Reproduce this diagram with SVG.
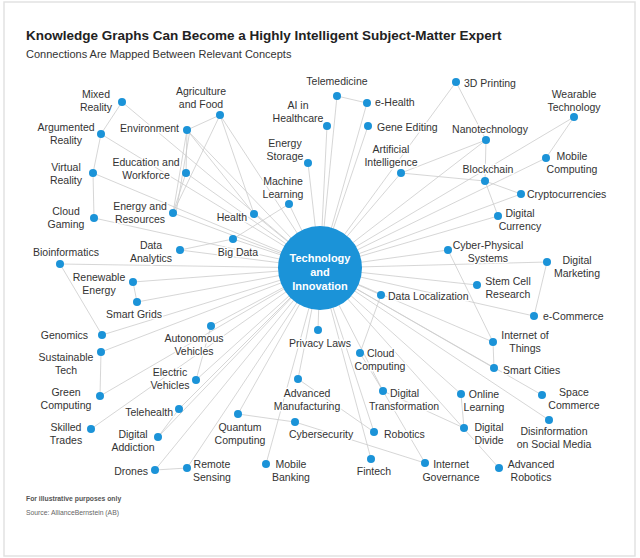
<svg xmlns="http://www.w3.org/2000/svg" width="640" height="558" viewBox="0 0 640 558">
<style>
.e line{stroke:#cccccc;stroke-width:0.8}
.n circle{fill:#1b93d8}
.n text{font-family:"Liberation Sans",Arial,sans-serif;font-size:10.5px;fill:#333;stroke:#fff;stroke-width:3;paint-order:stroke;stroke-linejoin:round}
.m{text-anchor:middle}.r{text-anchor:end}
</style>
<rect x="0" y="0" width="640" height="558" fill="#fff"/>
<rect x="4" y="2" width="631" height="554" fill="none" stroke="#e2e2e2" stroke-width="1.5"/>
<text x="26" y="40" font-family="Liberation Sans,Arial,sans-serif" font-size="13.5" font-weight="bold" fill="#222">Knowledge Graphs Can Become a Highly Intelligent Subject-Matter Expert</text>
<text x="26" y="58" font-family="Liberation Sans,Arial,sans-serif" font-size="11" fill="#333">Connections Are Mapped Between Relevant Concepts</text>
<text x="26" y="501" font-family="Liberation Sans,Arial,sans-serif" font-size="6.8" font-weight="bold" fill="#555">For illustrative purposes only</text>
<text x="26" y="515" font-family="Liberation Sans,Arial,sans-serif" font-size="6.8" fill="#666">Source: AllianceBernstein (AB)</text>
<g id="connectors" class="e">
<line x1="320" y1="268" x2="122" y2="102"/><line x1="320" y1="268" x2="101" y2="134"/><line x1="320" y1="268" x2="93" y2="173"/><line x1="320" y1="268" x2="94" y2="218"/>
<line x1="320" y1="268" x2="220" y2="115"/><line x1="320" y1="268" x2="187" y2="130"/><line x1="320" y1="268" x2="186" y2="173"/><line x1="320" y1="268" x2="173" y2="213"/>
<line x1="320" y1="268" x2="254" y2="214"/><line x1="320" y1="268" x2="289" y2="204"/><line x1="320" y1="268" x2="308" y2="163"/><line x1="320" y1="268" x2="327" y2="126"/>
<line x1="320" y1="268" x2="233" y2="239"/><line x1="320" y1="268" x2="180" y2="250"/><line x1="320" y1="268" x2="60" y2="264"/><line x1="320" y1="268" x2="133" y2="282"/>
<line x1="320" y1="268" x2="137" y2="302"/><line x1="320" y1="268" x2="102" y2="335"/><line x1="320" y1="268" x2="101" y2="352"/><line x1="320" y1="268" x2="100" y2="396"/>
<line x1="320" y1="268" x2="91" y2="429"/><line x1="320" y1="268" x2="211" y2="326"/><line x1="320" y1="268" x2="196" y2="380"/><line x1="320" y1="268" x2="179" y2="409"/>
<line x1="320" y1="268" x2="158" y2="437"/><line x1="320" y1="268" x2="155" y2="470"/><line x1="320" y1="268" x2="187" y2="468"/><line x1="320" y1="268" x2="238" y2="414"/>
<line x1="320" y1="268" x2="298" y2="379"/><line x1="320" y1="268" x2="266" y2="464"/><line x1="320" y1="268" x2="318" y2="330"/>
<line x1="320" y1="268" x2="381" y2="295"/><line x1="320" y1="268" x2="534" y2="316"/><line x1="320" y1="268" x2="493" y2="342"/><line x1="320" y1="268" x2="494" y2="368"/>
<line x1="320" y1="268" x2="383" y2="391"/><line x1="320" y1="268" x2="461" y2="394"/><line x1="320" y1="268" x2="542" y2="395"/><line x1="320" y1="268" x2="549" y2="420"/>
<line x1="320" y1="268" x2="374" y2="432"/><line x1="320" y1="268" x2="371" y2="459"/><line x1="320" y1="268" x2="499" y2="468"/>
<line x1="320" y1="268" x2="337" y2="96"/><line x1="320" y1="268" x2="367" y2="103"/><line x1="320" y1="268" x2="368" y2="126"/><line x1="320" y1="268" x2="456" y2="82"/>
<line x1="320" y1="268" x2="574" y2="117"/><line x1="320" y1="268" x2="546" y2="158"/><line x1="320" y1="268" x2="401" y2="173"/><line x1="320" y1="268" x2="486" y2="140"/>
<line x1="320" y1="268" x2="521" y2="194"/><line x1="320" y1="268" x2="498" y2="216"/><line x1="320" y1="268" x2="448" y2="250"/><line x1="320" y1="268" x2="547" y2="262"/><line x1="320" y1="268" x2="477" y2="285"/>
<line x1="122" y1="102" x2="101" y2="134"/><line x1="101" y1="134" x2="93" y2="173"/><line x1="93" y1="173" x2="94" y2="218"/>
<line x1="220" y1="115" x2="187" y2="130"/><line x1="220" y1="115" x2="173" y2="213"/><line x1="220" y1="115" x2="254" y2="214"/>
<line x1="187" y1="130" x2="186" y2="173"/><line x1="187" y1="130" x2="173" y2="213"/><line x1="190" y1="130" x2="176" y2="213"/><line x1="187" y1="130" x2="254" y2="214"/><line x1="186" y1="173" x2="173" y2="213"/>
<line x1="289" y1="204" x2="233" y2="239"/><line x1="233" y1="239" x2="180" y2="250"/>
<line x1="60" y1="264" x2="102" y2="335"/><line x1="133" y1="282" x2="137" y2="302"/><line x1="101" y1="352" x2="100" y2="396"/>
<line x1="211" y1="326" x2="196" y2="380"/><line x1="179" y1="409" x2="158" y2="437"/><line x1="155" y1="470" x2="187" y2="468"/><line x1="238" y1="414" x2="295" y2="422"/>
<line x1="381" y1="295" x2="360" y2="353"/><line x1="493" y1="342" x2="494" y2="368"/><line x1="448" y1="250" x2="493" y2="342"/><line x1="547" y1="262" x2="534" y2="316"/>
<line x1="461" y1="394" x2="464" y2="428"/><line x1="383" y1="391" x2="425" y2="463"/><line x1="295" y1="422" x2="425" y2="463"/><line x1="298" y1="379" x2="374" y2="432"/><line x1="360" y1="353" x2="383" y2="391"/><line x1="383" y1="391" x2="464" y2="428"/>
<line x1="337" y1="96" x2="367" y2="103"/><line x1="456" y1="82" x2="486" y2="140"/><line x1="486" y1="140" x2="485" y2="181"/><line x1="486" y1="140" x2="401" y2="173"/>
<line x1="401" y1="173" x2="485" y2="181"/><line x1="485" y1="181" x2="521" y2="194"/><line x1="485" y1="181" x2="498" y2="216"/><line x1="574" y1="117" x2="546" y2="158"/>
</g>
<g id="center"><circle cx="320" cy="268" r="42" fill="#1b93d8"/>
<text x="320" y="264" text-anchor="middle" font-family="Liberation Sans,Arial,sans-serif" font-size="11" font-weight="bold" fill="#fff"><tspan x="320" y="262">Technology</tspan><tspan x="320" y="276">and</tspan><tspan x="320" y="290">Innovation</tspan></text></g>
<g id="mixed-reality" class="n"><circle cx="122" cy="102" r="4"/><text class="m" x="96" y="98">Mixed<tspan x="96" dy="13">Reality</tspan></text></g>
<g id="argumented-reality" class="n"><circle cx="101" cy="134" r="4"/><text class="m" x="66" y="131">Argumented<tspan x="66" dy="13">Reality</tspan></text></g>
<g id="virtual-reality" class="n"><circle cx="93" cy="173" r="4"/><text class="m" x="66" y="171">Virtual<tspan x="66" dy="13">Reality</tspan></text></g>
<g id="cloud-gaming" class="n"><circle cx="94" cy="218" r="4"/><text class="m" x="66" y="215">Cloud<tspan x="66" dy="13">Gaming</tspan></text></g>
<g id="agriculture" class="n"><circle cx="220" cy="115" r="4"/><text class="m" x="201" y="95">Agriculture<tspan x="201" dy="13">and Food</tspan></text></g>
<g id="environment" class="n"><circle cx="187" cy="130" r="4"/><text class="r" x="179" y="132">Environment</text></g>
<g id="education" class="n"><circle cx="186" cy="173" r="4"/><text class="m" x="146" y="166">Education and<tspan x="146" dy="13">Workforce</tspan></text></g>
<g id="energy-resources" class="n"><circle cx="173" cy="213" r="4"/><text class="m" x="140" y="210">Energy and<tspan x="140" dy="13">Resources</tspan></text></g>
<g id="health" class="n"><circle cx="254" cy="214" r="4"/><text class="r" x="247" y="221">Health</text></g>
<g id="machine-learning" class="n"><circle cx="289" cy="204" r="4"/><text class="m" x="283" y="185">Machine<tspan x="283" dy="13">Learning</tspan></text></g>
<g id="energy-storage" class="n"><circle cx="308" cy="163" r="4"/><text class="m" x="285" y="147">Energy<tspan x="285" dy="13">Storage</tspan></text></g>
<g id="ai-healthcare" class="n"><circle cx="327" cy="126" r="4"/><text class="m" x="298" y="109">AI in<tspan x="298" dy="13">Healthcare</tspan></text></g>
<g id="big-data" class="n"><circle cx="233" cy="239" r="4"/><text class="m" x="238" y="256">Big Data</text></g>
<g id="data-analytics" class="n"><circle cx="180" cy="250" r="4"/><text class="m" x="151" y="249">Data<tspan x="151" dy="13">Analytics</tspan></text></g>
<g id="bioinformatics" class="n"><circle cx="60" cy="264" r="4"/><text class="m" x="66" y="256">Bioinformatics</text></g>
<g id="renewable" class="n"><circle cx="133" cy="282" r="4"/><text class="m" x="99" y="281">Renewable<tspan x="99" dy="13">Energy</tspan></text></g>
<g id="smart-grids" class="n"><circle cx="137" cy="302" r="4"/><text class="m" x="134" y="318">Smart Grids</text></g>
<g id="genomics" class="n"><circle cx="102" cy="335" r="4"/><text class="r" x="88" y="339">Genomics</text></g>
<g id="sustainable" class="n"><circle cx="101" cy="352" r="4"/><text class="m" x="66" y="361">Sustainable<tspan x="66" dy="13">Tech</tspan></text></g>
<g id="green-computing" class="n"><circle cx="100" cy="396" r="4"/><text class="m" x="66" y="396">Green<tspan x="66" dy="13">Computing</tspan></text></g>
<g id="skilled-trades" class="n"><circle cx="91" cy="429" r="4"/><text class="m" x="66" y="431">Skilled<tspan x="66" dy="13">Trades</tspan></text></g>
<g id="autonomous" class="n"><circle cx="211" cy="326" r="4"/><text class="m" x="194" y="342">Autonomous<tspan x="194" dy="13">Vehicles</tspan></text></g>
<g id="electric" class="n"><circle cx="196" cy="380" r="4"/><text class="m" x="170" y="376">Electric<tspan x="170" dy="13">Vehicles</tspan></text></g>
<g id="telehealth" class="n"><circle cx="179" cy="409" r="4"/><text class="r" x="173" y="416">Telehealth</text></g>
<g id="digital-addiction" class="n"><circle cx="158" cy="437" r="4"/><text class="m" x="133" y="438">Digital<tspan x="133" dy="13">Addiction</tspan></text></g>
<g id="drones" class="n"><circle cx="155" cy="470" r="4"/><text class="r" x="148" y="475">Drones</text></g>
<g id="remote-sensing" class="n"><circle cx="187" cy="468" r="4"/><text class="m" x="212" y="468">Remote<tspan x="212" dy="13">Sensing</tspan></text></g>
<g id="quantum" class="n"><circle cx="238" cy="414" r="4"/><text class="m" x="240" y="431">Quantum<tspan x="240" dy="13">Computing</tspan></text></g>
<g id="cybersecurity" class="n"><circle cx="295" cy="422" r="4"/><text x="289" y="438">Cybersecurity</text></g>
<g id="adv-manufacturing" class="n"><circle cx="298" cy="379" r="4"/><text class="m" x="307" y="397">Advanced<tspan x="307" dy="13">Manufacturing</tspan></text></g>
<g id="mobile-banking" class="n"><circle cx="266" cy="464" r="4"/><text class="m" x="291" y="468">Mobile<tspan x="291" dy="13">Banking</tspan></text></g>
<g id="privacy" class="n"><circle cx="318" cy="330" r="4"/><text class="m" x="320" y="347">Privacy Laws</text></g>
<g id="data-localization" class="n"><circle cx="381" cy="295" r="4"/><text x="388" y="300">Data Localization</text></g>
<g id="ecommerce" class="n"><circle cx="534" cy="316" r="4"/><text x="543" y="320">e-Commerce</text></g>
<g id="iot" class="n"><circle cx="493" cy="342" r="4"/><text class="m" x="525" y="339">Internet of<tspan x="525" dy="13">Things</tspan></text></g>
<g id="smart-cities" class="n"><circle cx="494" cy="368" r="4"/><text x="503" y="374">Smart Cities</text></g>
<g id="cloud-computing" class="n"><circle cx="360" cy="353" r="4"/><text x="367" y="357">Cloud<tspan x="380" dy="13" text-anchor="middle">Computing</tspan></text></g>
<g id="digital-transformation" class="n"><circle cx="383" cy="391" r="4"/><text x="390" y="397">Digital<tspan x="404" dy="13" text-anchor="middle">Transformation</tspan></text></g>
<g id="online-learning" class="n"><circle cx="461" cy="394" r="4"/><text class="m" x="484" y="398">Online<tspan x="484" dy="13">Learning</tspan></text></g>
<g id="digital-divide" class="n"><circle cx="464" cy="428" r="4"/><text class="m" x="489" y="431">Digital<tspan x="489" dy="13">Divide</tspan></text></g>
<g id="space-commerce" class="n"><circle cx="542" cy="395" r="4"/><text class="m" x="574" y="396">Space<tspan x="574" dy="13">Commerce</tspan></text></g>
<g id="disinformation" class="n"><circle cx="549" cy="420" r="4"/><text class="m" x="554" y="435">Disinformation<tspan x="554" dy="13">on Social Media</tspan></text></g>
<g id="robotics" class="n"><circle cx="374" cy="432" r="4"/><text x="384" y="438">Robotics</text></g>
<g id="fintech" class="n"><circle cx="371" cy="459" r="4"/><text class="m" x="374" y="475">Fintech</text></g>
<g id="internet-governance" class="n"><circle cx="425" cy="463" r="4"/><text class="m" x="451" y="468">Internet<tspan x="451" dy="13">Governance</tspan></text></g>
<g id="advanced-robotics" class="n"><circle cx="499" cy="468" r="4"/><text class="m" x="531" y="468">Advanced<tspan x="531" dy="13">Robotics</tspan></text></g>
<g id="telemedicine" class="n"><circle cx="337" cy="96" r="4"/><text class="m" x="337" y="85">Telemedicine</text></g>
<g id="ehealth" class="n"><circle cx="367" cy="103" r="4"/><text x="375" y="106">e-Health</text></g>
<g id="gene-editing" class="n"><circle cx="368" cy="126" r="4"/><text x="377" y="131">Gene Editing</text></g>
<g id="3d-printing" class="n"><circle cx="456" cy="82" r="4"/><text x="464" y="87">3D Printing</text></g>
<g id="nanotech" class="n"><circle cx="486" cy="140" r="4"/><text class="m" x="490" y="133">Nanotechnology</text></g>
<g id="wearable" class="n"><circle cx="574" cy="117" r="4"/><text class="m" x="574" y="98">Wearable<tspan x="574" dy="13">Technology</tspan></text></g>
<g id="mobile-computing" class="n"><circle cx="546" cy="158" r="4"/><text class="m" x="572" y="160">Mobile<tspan x="572" dy="13">Computing</tspan></text></g>
<g id="ai" class="n"><circle cx="401" cy="173" r="4"/><text class="m" x="391" y="153">Artificial<tspan x="391" dy="13">Intelligence</tspan></text></g>
<g id="blockchain" class="n"><circle cx="485" cy="181" r="4"/><text class="m" x="488" y="173">Blockchain</text></g>
<g id="crypto" class="n"><circle cx="521" cy="194" r="4"/><text x="527" y="198">Cryptocurrencies</text></g>
<g id="digital-currency" class="n"><circle cx="498" cy="216" r="4"/><text class="m" x="520" y="217">Digital<tspan x="520" dy="13">Currency</tspan></text></g>
<g id="cps" class="n"><circle cx="448" cy="250" r="4"/><text class="m" x="488" y="249">Cyber-Physical<tspan x="488" dy="13">Systems</tspan></text></g>
<g id="digital-marketing" class="n"><circle cx="547" cy="262" r="4"/><text class="m" x="577" y="264">Digital<tspan x="577" dy="13">Marketing</tspan></text></g>
<g id="stem-cell" class="n"><circle cx="477" cy="285" r="4"/><text class="m" x="508" y="285">Stem Cell<tspan x="508" dy="13">Research</tspan></text></g>
</svg>
